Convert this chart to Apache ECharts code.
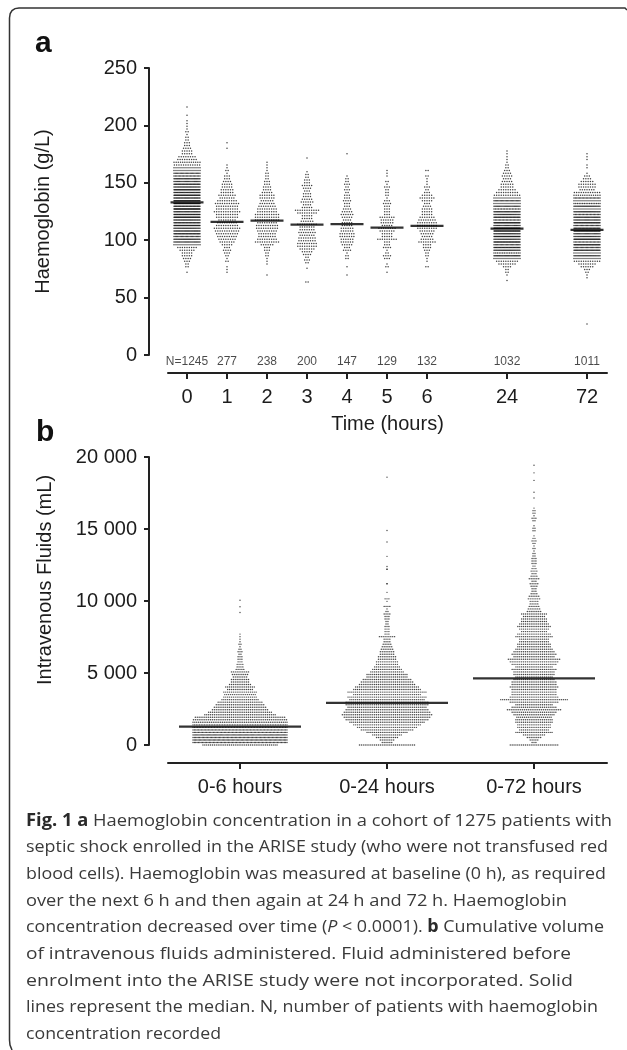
<!DOCTYPE html>
<html><head><meta charset="utf-8">
<style>html,body{margin:0;padding:0;background:#fff}#c{width:627px;height:1050px}</style>
<script src="https://cdn.jsdelivr.net/npm/echarts@6/dist/echarts.min.js"></script>
</head><body><div id="c"></div>
<script>
// ---------- panel a data ----------
const timeLabels = ['0','1','2','3','4','5','6','24','72'];
const timePositions = [0,1,2,3,4,5,6,8,10];
const nLabels = ['N=1245','277','238','200','147','129','132','1032','1011'];
const hbMedians = [133,116,117,113.5,114,111,112.5,110,109];
const hbBinStep = 2.4;
const hbBinStarts = [72,72,69.6,63.6,69.6,72,76.8,64.8,67.2];
const hb0 = [1,0,2,2,3,4,5,5,7,9,14,24,28,22,34,30,26,40,34,28,44,38,30,50,34,48,44,30,42,32,40,26,34,24,30,20,22,14,14,12,13,9,8,5,5,4,3,3,2,2,1,2,1,1,1,1,0,1,0,0,1];
const hb1 = [1,1,1,0,2,1,2,3,4,3,5,7,8,9,10,11,12,10,9,8,10,10,12,10,10,11,9,7,8,6,6,5,5,4,3,3,1,2,1,1,0,0,0,0,0,1,0,1];
const hb2 = [1,0,0,0,1,1,1,2,2,3,3,6,11,9,8,8,9,10,10,9,11,11,11,9,9,8,7,6,7,7,5,4,4,3,3,2,2,2,1,1,1,1];
const hb3 = [2,0,0,0,0,1,0,2,3,2,4,5,7,9,9,8,8,7,8,7,7,9,6,5,5,9,11,5,4,6,5,4,4,3,4,5,3,3,2,2,1,0,0,0,0,1];
const hb4 = [1,0,0,1,0,0,2,2,1,4,3,5,6,6,7,7,6,6,5,5,4,5,6,5,4,3,3,4,3,3,2,3,2,3,2,2,1,0,0,0,0,0,0,0,1];
const hb5 = [1,0,2,1,0,3,4,2,1,4,3,3,9,5,5,7,8,5,6,6,7,3,3,3,3,4,3,1,2,2,2,3,1,2,0,1,1,1];
const hb6 = [2,0,1,1,2,2,3,4,4,8,6,5,6,7,9,9,9,8,7,5,5,5,4,3,5,7,5,3,2,3,1,1,1,2,0,2];
const hb24 = [1,0,1,2,2,4,8,10,14,30,16,28,34,22,36,26,40,28,44,38,24,42,20,34,26,30,18,24,14,22,14,12,10,8,6,6,5,4,5,4,3,2,2,1,1,1,1,1];
const hb72 = [1,1,2,3,6,8,12,14,26,14,32,22,36,20,40,26,24,42,34,22,38,24,30,20,28,14,26,16,14,20,13,12,7,8,8,6,4,3,1,0,1,1,0,1,1,1];
const hbRows = [hb0,hb1,hb2,hb3,hb4,hb5,hb6,hb24,hb72];
const hb72Outliers = [27];

// ---------- panel b data ----------
const fluidLabels = ['0-6 hours','0-24 hours','0-72 hours'];
const fluidMedians = [1270,2930,4620];
const fluidBinStep = 175;
const fl6 = [40,70,75,72,80,70,68,62,58,52,50,48,38,34,30,28,26,24,20,18,17,18,14,16,12,10,10,8,9,10,5,4,4,3,3,3,2,3,2,1,2,1,1,1,1];
const fl24 = [30,6,8,12,16,22,28,32,36,40,44,46,48,46,44,42,44,44,40,42,36,42,36,34,30,28,26,22,22,18,16,14,12,12,10,10,8,8,7,6,5,4,4,9,3,3,3,3,2,2,3,3,4,2,1,4,0,1,3];
const fl72 = [26,3,5,8,12,20,16,18,18,20,20,19,22,24,29,24,20,26,36,26,24,24,24,26,24,24,22,20,22,22,24,20,24,26,28,22,24,22,20,18,18,16,16,20,18,14,16,18,16,14,14,12,14,8,7,6,5,5,7,6,4,3,3,4,5,3,6,4,3,4,3,2,3,3,3,2,2,1,2,1,2,3,2,1,0,2,2,1,0,2,3,1,2,2,1];
const fl6Upper = [9200,9600,10050];
const fl24Upper = [10600,11200,11200,12200,12200,12400,13100,14100,14900,18600];
const fl72Upper = [17150,17550,18375,18900,19425];
const flRows = [fl6,fl24,fl72];
const flUpper = [fl6Upper,fl24Upper,fl72Upper];

// ---------- caption ----------
const captionLines = [
 ['{b|Fig. 1 a} Haemoglobin concentration in a cohort of 1275 patients with',612],
 ['septic shock enrolled in the ARISE study (who were not transfused red',608],
 ['blood cells). Haemoglobin was measured at baseline (0 h), as required',606],
 ['over the next 6 h and then again at 24 h and 72 h. Haemoglobin',567],
 ['concentration decreased over time ({i|P} < 0.0001). {b|b} Cumulative volume',604],
 ['of intravenous fluids administered. Fluid administered before',571],
 ['enrolment into the ARISE study were not incorporated. Solid',573],
 ['lines represent the median. N, number of patients with haemoglobin',598],
 ['concentration recorded',221]
];

// ---------- layout (px) ----------
const A = {left:168,right:607,top:68,zero:355,unit:40};
const B = {left:168,right:607,top:457,zero:745,unit:147};
const xA0 = 187, xB0 = 240;
const textCol = '#1c1c1c';
const fontAxis = '"Liberation Sans",Arial,sans-serif';

function swarm(rows, start, step, xPos, unit, gap, halfMax){
  const pts=[];
  rows.forEach((n,i)=>{
    if(!n) return;
    const g = n>1 ? Math.min(gap, 2*halfMax/(n-1)) : 0;
    for(let k=0;k<n;k++){
      pts.push([xPos + (k-(n-1)/2)*g/unit, start+i*step]);
    }
  });
  return pts;
}
const hbPts=[];
hbRows.forEach((r,i)=>hbPts.push(...swarm(r,hbBinStarts[i],hbBinStep,timePositions[i],A.unit,2.3,13)));
hb72Outliers.forEach(v=>hbPts.push([timePositions[8],v]));
const flPts=[];
flRows.forEach((r,i)=>{
  flPts.push(...swarm(r,0,fluidBinStep,i,B.unit,1.9,47));
  flUpper[i].forEach(v=>flPts.push([i,v]));
});

// caption fit
const mctx=document.createElement('canvas').getContext('2d');
const capFont='"Open Sans",sans-serif', capSize=17;
function measure(s){
  let w=0; const re=/\{([bi])\|([^}]*)\}|([^{]+)/g; let m;
  while((m=re.exec(s))){
    const st = m[1]==='b'?'bold ':m[1]==='i'?'italic ':'';
    mctx.font=st+capSize+'px '+capFont;
    w+=mctx.measureText(m[2]||m[3]).width;
  }
  return w;
}
const capLeft=26;
const captionEls=captionLines.map(([t,r],i)=>({
  type:'text', silent:true, x:capLeft, y:821+i*26.65, originX:0, originY:0,
  scaleX:(r-capLeft)/measure(t),
  style:{text:t,font:capSize+'px '+capFont,fill:'#3a3a3a',textVerticalAlign:'middle',textAlign:'left',
    rich:{b:{fontWeight:'bold',fontFamily:capFont,fontSize:capSize,fill:'#2a2a2a'},
          i:{fontStyle:'italic',fontFamily:capFont,fontSize:capSize,fill:'#3a3a3a'}}}
}));

function axisX(grid,name,vals,labels,min,max){
  return {type:'value',gridIndex:grid,min,max,position:'bottom',offset:18,name,nameLocation:'middle',nameGap:41,
    nameTextStyle:{fontFamily:fontAxis,fontSize:20,color:textCol},
    axisLine:{onZero:false,lineStyle:{color:'#222',width:2}},
    axisTick:{length:6,customValues:vals,lineStyle:{color:'#222',width:2}},
    axisLabel:{customValues:vals,margin:14,fontFamily:fontAxis,fontSize:20,color:textCol,
      formatter:v=>labels[vals.indexOf(v)]},
    splitLine:{show:false}};
}
function axisY(grid,name,max,interval,fmt,nameGap,padding){
  return {type:'value',gridIndex:grid,min:0,max,interval,position:'left',offset:19,name,nameLocation:'middle',nameGap,
    nameTextStyle:{fontFamily:fontAxis,fontSize:20,color:textCol,padding},
    axisLine:{show:true,onZero:false,lineStyle:{color:'#222',width:2}},
    axisTick:{show:true,length:5,lineStyle:{color:'#222',width:2}},
    axisLabel:{margin:12,fontFamily:fontAxis,fontSize:20,color:textCol,formatter:fmt},
    splitLine:{show:false}};
}
const dotStyle={color:'#111'};
const chart=echarts.init(document.getElementById('c'),null,{renderer:'canvas'});
chart.setOption({
  animation:false,backgroundColor:'#fff',
  grid:[
    {left:A.left,top:A.top,width:A.right-A.left,height:A.zero-A.top,containLabel:false,outerBoundsMode:'none'},
    {left:B.left,top:B.top,width:B.right-B.left,height:B.zero-B.top,containLabel:false,outerBoundsMode:'none'}
  ],
  xAxis:[
    axisX(0,'Time (hours)',timePositions,timeLabels,(A.left-xA0)/A.unit,(A.right-xA0)/A.unit),
    axisX(1,'',[0,1,2],fluidLabels,(B.left-xB0)/B.unit,(B.right-xB0)/B.unit)
  ],
  yAxis:[
    axisY(0,'Haemoglobin (g/L)',250,50,v=>String(v),96,[0,0,0,0]),
    axisY(1,'Intravenous Fluids (mL)',20000,5000,v=>v===0?'0':String(v).replace(/(\d)(\d{3})$/,'$1 $2'),94,[0,0,0,42])
  ],
  series:[
    {name:'Haemoglobin',type:'scatter',xAxisIndex:0,yAxisIndex:0,data:hbPts,symbol:'circle',symbolSize:1.5,itemStyle:dotStyle,silent:true,clip:false,progressive:0},
    {name:'Median Hb',type:'scatter',xAxisIndex:0,yAxisIndex:0,data:hbMedians.map((m,i)=>[timePositions[i],m]),symbol:'rect',symbolSize:[33,2.2],itemStyle:{color:'#000'},silent:true,clip:false,z:5},
    {name:'N',type:'scatter',xAxisIndex:0,yAxisIndex:0,data:nLabels.map((n,i)=>[timePositions[i],-6]),symbolSize:0,silent:true,clip:false,
      label:{show:true,position:'inside',formatter:p=>nLabels[p.dataIndex],fontFamily:fontAxis,fontSize:12,color:textCol}},
    {name:'Fluids',type:'scatter',xAxisIndex:1,yAxisIndex:1,data:flPts,symbol:'circle',symbolSize:1.4,itemStyle:dotStyle,silent:true,clip:false,progressive:0},
    {name:'Median fluids',type:'scatter',xAxisIndex:1,yAxisIndex:1,data:fluidMedians.map((m,i)=>[i,m]),symbol:'rect',symbolSize:[122,2.2],itemStyle:{color:'#000'},silent:true,clip:false,z:5}
  ],
  graphic:[
    {type:'polyline',silent:true,shape:{points:[[627,10],[625,8],[19,8],[15,8.6],[12,10.5],[10.2,13.5],[9.5,18],[9.5,1040],[10,1045],[12,1050]]},
      style:{fill:'none',stroke:'#333',lineWidth:1.5}},
    {type:'text',silent:true,x:35,y:44,style:{text:'a',font:'bold 30px '+fontAxis,fill:'#111',textVerticalAlign:'middle'}},
    {type:'text',silent:true,x:36,y:433,style:{text:'b',font:'bold 30px '+fontAxis,fill:'#111',textVerticalAlign:'middle'}},
    ...captionEls
  ]
});
</script></body></html>
